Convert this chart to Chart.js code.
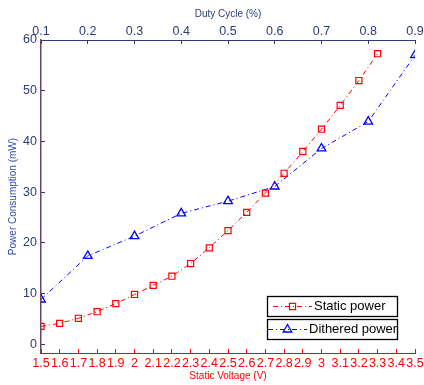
<!DOCTYPE html>
<html><head><meta charset="utf-8">
<script src="https://cdn.jsdelivr.net/npm/chart.js@4/dist/chart.umd.min.js"></script>
<style>html,body{margin:0;padding:0;background:#fff}canvas{display:block}</style>
</head><body>
<canvas id="c" width="424" height="385"></canvas>
<script>
// ---- data ----
const staticVoltage = [1.5,1.6,1.7,1.8,1.9,2.0,2.1,2.2,2.3,2.4,2.5,2.6,2.7,2.8,2.9,3.0,3.1,3.2,3.3];
const staticPower   = [3.5,4.1,5.1,6.4,8.0,9.8,11.6,13.4,15.9,19.0,22.4,26.0,29.8,33.7,38.0,42.4,47.1,52.0,57.3];
const dutyCycle     = [0.1,0.2,0.3,0.4,0.5,0.6,0.7,0.8,0.9];
const ditheredPower = [8.8,17.4,21.3,25.8,28.2,31.1,38.6,43.9,57.0];

const voltageTickValues = [1.5,1.6,1.7,1.8,1.9,2.0,2.1,2.2,2.3,2.4,2.5,2.6,2.7,2.8,2.9,3.0,3.1,3.2,3.3,3.4,3.5];
const voltageTickLabels = ['1.5','1.6','1.7','1.8','1.9','2','2.1','2.2','2.3','2.4','2.5','2.6','2.7','2.8','2.9','3','3.1','3.2','3.3','3.4','3.5'];
const dutyTickValues = [0.1,0.2,0.3,0.4,0.5,0.6,0.7,0.8,0.9];
const dutyTickLabels = ['0.1','0.2','0.3','0.4','0.5','0.6','0.7','0.8','0.9'];
const powerTickValues = [0,10,20,30,40,50,60];
const powerTickLabels = ['0','10','20','30','40','50','60'];

const seriesNames = ['Static power','Dithered power'];
const axisTitles = {voltage:'Static Voltage (V)', duty:'Duty Cycle (%)', power:'Power Consumption (mW)'};

// ---- styling ----
const FONT = '"Liberation Sans", Arial, Helvetica, sans-serif';
const RED = '#ff0000', BLUE = '#0000ff';
const NAVY = '#2c3c72', PURPLE = '#6e4466', TITLEBLUE = '#2f4fa6';
const DASH = [5,3,1,3];

function fixTicks(values){
  return function(scale){ scale.ticks = values.map(v => ({value:v})); };
}
function labelFrom(values, labels){
  return function(v){ const i = values.findIndex(t => Math.abs(t - v) < 1e-6); return i >= 0 ? labels[i] : ''; };
}
function fixSize(prop, size){
  return function(scale){
    scale[prop] = size;
    scale.paddingLeft = 0; scale.paddingRight = 0; scale.paddingTop = 0; scale.paddingBottom = 0;
  };
}

const twoBoxLegend = {
  id: 'twoBoxLegend',
  afterDraw(chart){
    const ctx = chart.ctx, a = chart.chartArea;
    const boxL = a.right - 148, boxW = 130, boxH = 20;
    const entries = [
      {ds:0, top:a.bottom - 57, lineX1: boxL + 6, lineX2: boxL + 45, textX: boxL + 47},
      {ds:1, top:a.bottom - 34, lineX1: boxL + 1, lineX2: boxL + 40, textX: boxL + 42}
    ];
    ctx.save();
    entries.forEach(e => {
      const ds = chart.data.datasets[e.ds];
      ctx.fillStyle = '#fff';
      ctx.fillRect(boxL, e.top, boxW, boxH);
      ctx.lineWidth = 1.3; ctx.strokeStyle = '#000'; ctx.setLineDash([]);
      ctx.strokeRect(boxL + 0.5, e.top + 0.5, boxW, boxH);
      const cy = e.top + boxH/2 + 0.5;
      ctx.strokeStyle = ds.borderColor; ctx.lineWidth = ds.borderWidth;
      ctx.setLineDash(ds.borderDash);
      ctx.beginPath(); ctx.moveTo(e.lineX1, cy); ctx.lineTo(e.lineX2, cy); ctx.stroke();
      ctx.setLineDash([]);
      const mx = (e.lineX1 + e.lineX2)/2;
      ctx.lineWidth = ds.pointBorderWidth; ctx.strokeStyle = ds.pointBorderColor;
      ctx.beginPath();
      const r = ds.pointRadius;
      if (ds.pointStyle === 'rect') {
        const s = Math.SQRT1_2 * r;
        ctx.rect(mx - s, cy - s, 2*s, 2*s);
      } else {
        ctx.moveTo(mx, cy - r);
        ctx.lineTo(mx + Math.sin(2*Math.PI/3)*r, cy + r/2);
        ctx.lineTo(mx - Math.sin(2*Math.PI/3)*r, cy + r/2);
        ctx.closePath();
      }
      ctx.stroke();
      ctx.fillStyle = '#000'; ctx.font = '13px ' + FONT;
      ctx.textAlign = 'left'; ctx.textBaseline = 'middle';
      ctx.fillText(ds.label, e.textX, cy);
    });
    ctx.restore();
  }
};

new Chart(document.getElementById('c'), {
  type: 'line',
  data: {
    datasets: [
      {
        label: seriesNames[0], xAxisID: 'x', yAxisID: 'y',
        data: staticVoltage.map((v,i) => ({x:v, y:staticPower[i]})),
        borderColor: RED, borderWidth: 1, borderDash: DASH, fill: false, tension: 0,
        pointStyle: 'rect', pointRadius: 4.3, pointBorderColor: RED, pointBorderWidth: 1.2,
        pointBackgroundColor: 'rgba(0,0,0,0)'
      },
      {
        label: seriesNames[1], xAxisID: 'x2', yAxisID: 'y',
        data: dutyCycle.map((v,i) => ({x:v, y:ditheredPower[i]})),
        borderColor: BLUE, borderWidth: 1, borderDash: DASH, fill: false, tension: 0,
        pointStyle: 'triangle', pointRadius: 5, pointBorderColor: BLUE, pointBorderWidth: 1.3,
        pointBackgroundColor: 'rgba(0,0,0,0)'
      }
    ]
  },
  options: {
    responsive: false, animation: false,
    layout: { padding: { left: 0, right: 9, top: 0, bottom: 0 } },
    plugins: { legend: { display: false }, tooltip: { enabled: false } },
    elements: { point: { hoverRadius: 4 } },
    scales: {
      x: {
        type: 'linear', position: 'bottom', min: 1.5, max: 3.5,
        afterBuildTicks: fixTicks(voltageTickValues),
        afterFit: fixSize('height', 32),
        ticks: { autoSkip: false, maxRotation: 0, minRotation: 0, padding: 7, color: RED,
                 font: { family: FONT, size: 12.5 }, callback: labelFrom(voltageTickValues, voltageTickLabels) },
        grid: { drawOnChartArea: false, drawTicks: true, tickLength: -4, color: RED, lineWidth: 1 },
        border: { display: true, color: RED, width: 1 },
        title: { display: true, text: axisTitles.voltage, color: RED, font: { family: FONT, size: 10 },
                 padding: { top: 0, bottom: 3 } }
      },
      x2: {
        type: 'linear', position: 'top', min: 0.1, max: 0.9,
        afterBuildTicks: fixTicks(dutyTickValues),
        afterFit: fixSize('height', 40),
        ticks: { autoSkip: false, maxRotation: 0, minRotation: 0, padding: 5, color: NAVY,
                 font: { family: FONT, size: 12.5 }, callback: labelFrom(dutyTickValues, dutyTickLabels) },
        grid: { drawOnChartArea: false, drawTicks: true, tickLength: -4, color: NAVY, lineWidth: 1 },
        border: { display: true, color: NAVY, width: 1 },
        title: { display: true, text: axisTitles.duty, color: NAVY, font: { family: FONT, size: 10 },
                 padding: { top: 8, bottom: 0 } }
      },
      y: {
        type: 'linear', position: 'left', min: -1.75, max: 60,
        afterBuildTicks: fixTicks(powerTickValues),
        afterFit: fixSize('width', 41),
        ticks: { autoSkip: false, padding: 8, color: NAVY,
                 font: { family: FONT, size: 12.5 }, callback: labelFrom(powerTickValues, powerTickLabels) },
        grid: { drawOnChartArea: false, drawTicks: true, tickLength: -4, color: NAVY, lineWidth: 1 },
        border: { display: true, color: PURPLE, width: 1.5 },
        title: { display: true, text: axisTitles.power, color: TITLEBLUE, font: { family: FONT, size: 10 },
                 padding: { top: 7, bottom: 0 } }
      }
    }
  },
  plugins: [twoBoxLegend]
});
</script>
</body></html>
